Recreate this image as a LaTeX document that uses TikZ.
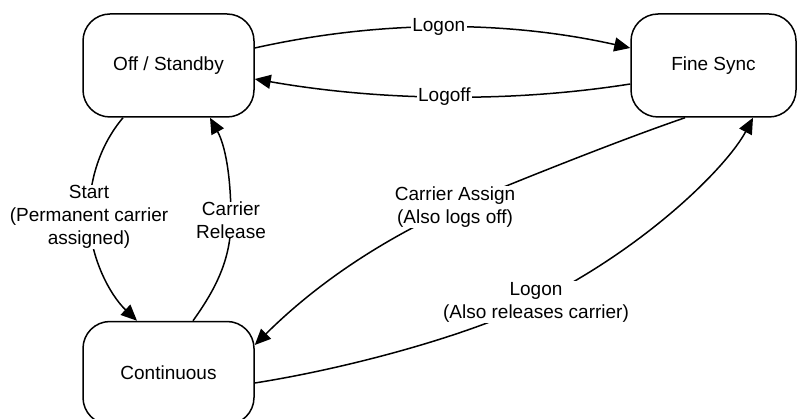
\documentclass[tikz,border=0pt]{standalone}
\usepackage{fontspec}
\setmainfont{Liberation Sans}
\usetikzlibrary{arrows.meta,calc}
\tikzset{
  statebox/.style={draw, line width=1.5pt, rounded corners=27pt, minimum height=103pt, align=center, font=\fontsize{19}{23}\selectfont},
  conn/.style={line width=1.5pt},
  arr/.style={conn, -{Triangle[length=16pt,width=14pt]}},
  lbl/.style={fill=white, inner sep=1.5pt, align=center, font=\fontsize{19}{23}\selectfont}
}
\begin{document}
\begin{tikzpicture}[x=1pt,y=-1pt]
\useasboundingbox (0,0) rectangle (797,419);
\clip (0,0) rectangle (797,419);
\node[statebox, minimum width=171pt] (off) at (168.5,65.5) {Off / Standby};
\node[statebox, minimum width=165pt] (fine) at (713.5,65.5) {Fine Sync};
\node[statebox, minimum width=171pt] (cont) at (168.5,373) {Continuous};
% Logon (top)
\draw[arr] ($(off.east)+(0,-17.5)$) .. controls (380,20) and (505,20) .. ($(fine.west)+(0,-17.5)$)
  node[lbl, pos=0.49] (l1) {Logon};
% Logoff
\draw[arr] ($(fine.west)+(0,18.5)$) .. controls (510,103) and (380,101) .. ($(off.east)+(0,13.5)$)
  node[lbl, pos=0.5] (l2) {Logoff};
% Start
\draw[arr] ($(off.south)+(-45.5,0)$) .. controls (100,145) and (89,180) .. (89,217)
  node[lbl, inner sep=0pt] (l3) {Start\\(Permanent carrier\\assigned)}
  .. controls (90,258) and (110,295) .. ($(cont.north)+(-31.5,0)$);
% Carrier Release
\draw[arr] ($(cont.north)+(24.5,0)$) .. controls (215,290) and (231,260) .. (231,220)
  node[lbl, inner sep=0pt] (l4) {Carrier\\Release}
  .. controls (231,175) and (225,145) .. ($(off.south)+(41.5,0)$);
% Carrier Assign
\draw[arr] ($(fine.south)+(-28.5,0)$) .. controls (620,140) and (520,180) .. (455,207)
  node[lbl, inner sep=1pt] (l5) {Carrier Assign\\(Also logs off)}
  .. controls (360,250) and (300,300) .. ($(cont.east)+(0,-28)$);
% Logon (also releases carrier)
\draw[arr] ($(cont.east)+(0,10)$) .. controls (350,368) and (470,335) .. (536,302)
  node[lbl, inner sep=1pt] (l6) {Logon\\(Also releases carrier)}
  .. controls (650,245) and (728,165) .. ($(fine.south)+(39.5,0)$);
\end{tikzpicture}
\end{document}
